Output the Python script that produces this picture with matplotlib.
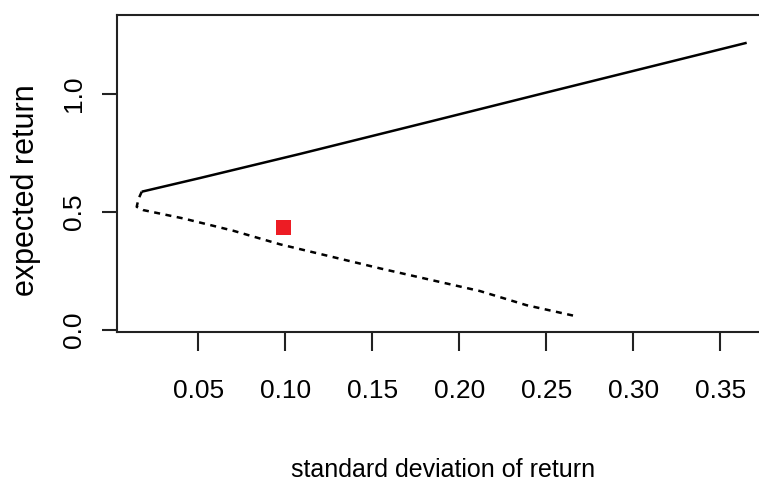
import matplotlib
matplotlib.use("Agg")
import matplotlib.pyplot as plt

# efficient frontier, upper (solid) branch
upper_sd = [0.0175, 0.0510, 0.1084, 0.1832, 0.2521, 0.3652]
upper_mu = [0.586, 0.644, 0.746, 0.883, 1.010, 1.217]

# lower (dashed) branch, incl. the bend near the minimum-variance point
lower_sd = [0.0175, 0.0156, 0.0146, 0.0184, 0.0412, 0.0699, 0.0970,
            0.1545, 0.2119, 0.2387, 0.2655]
lower_mu = [0.586, 0.555, 0.522, 0.508, 0.473, 0.421, 0.363,
            0.261, 0.165, 0.105, 0.061]

# single portfolio
point_sd = [0.0985]
point_mu = [0.438]

x_ticks = [0.05, 0.10, 0.15, 0.20, 0.25, 0.30, 0.35]
y_ticks = [0.0, 0.5, 1.0]

W, H = 759, 484
fig = plt.figure(figsize=(W / 100, H / 100), dpi=100)
ax = fig.add_axes([116.7 / W, 1 - 332 / H, (770 - 116.7) / W, (332 - 14.7) / H])

ax.plot(upper_sd, upper_mu, color="black", lw=1.8, solid_capstyle="butt")
ax.plot(lower_sd, lower_mu, color="black", lw=1.8, dashes=(2.4, 2.2))
ax.plot(point_sd, point_mu, "s", color="#ED1C24", markersize=10.8, markeredgewidth=0)

ax.set_xlim(0.0031, 0.3786)
ax.set_ylim(-0.0085, 1.336)

for s in ax.spines.values():
    s.set_linewidth(1.5)
    s.set_color("#222222")

ax.set_xticks(x_ticks)
ax.set_xticklabels([f"{v:.2f}" for v in x_ticks], family="Liberation Sans",
                   fontsize=19)
ax.set_yticks(y_ticks)
ax.set_yticklabels([f"{v:.1f}" for v in y_ticks], family="Liberation Sans",
                   fontsize=19, rotation=90, va="center")
ax.tick_params(axis="x", length=13.7, width=1.5, pad=20, color="#222222")
ax.tick_params(axis="y", length=10.8, width=1.5, pad=11, color="#222222")

fig.text(443 / W, 1 - 470 / H, "standard deviation of return",
         family="Liberation Sans", fontsize=18, ha="center", va="center")
fig.text(26 / W, 1 - 190 / H, "expected return", family="Liberation Sans",
         fontsize=22, rotation=90, ha="center", va="center")

fig.savefig("out.png", dpi=100)
